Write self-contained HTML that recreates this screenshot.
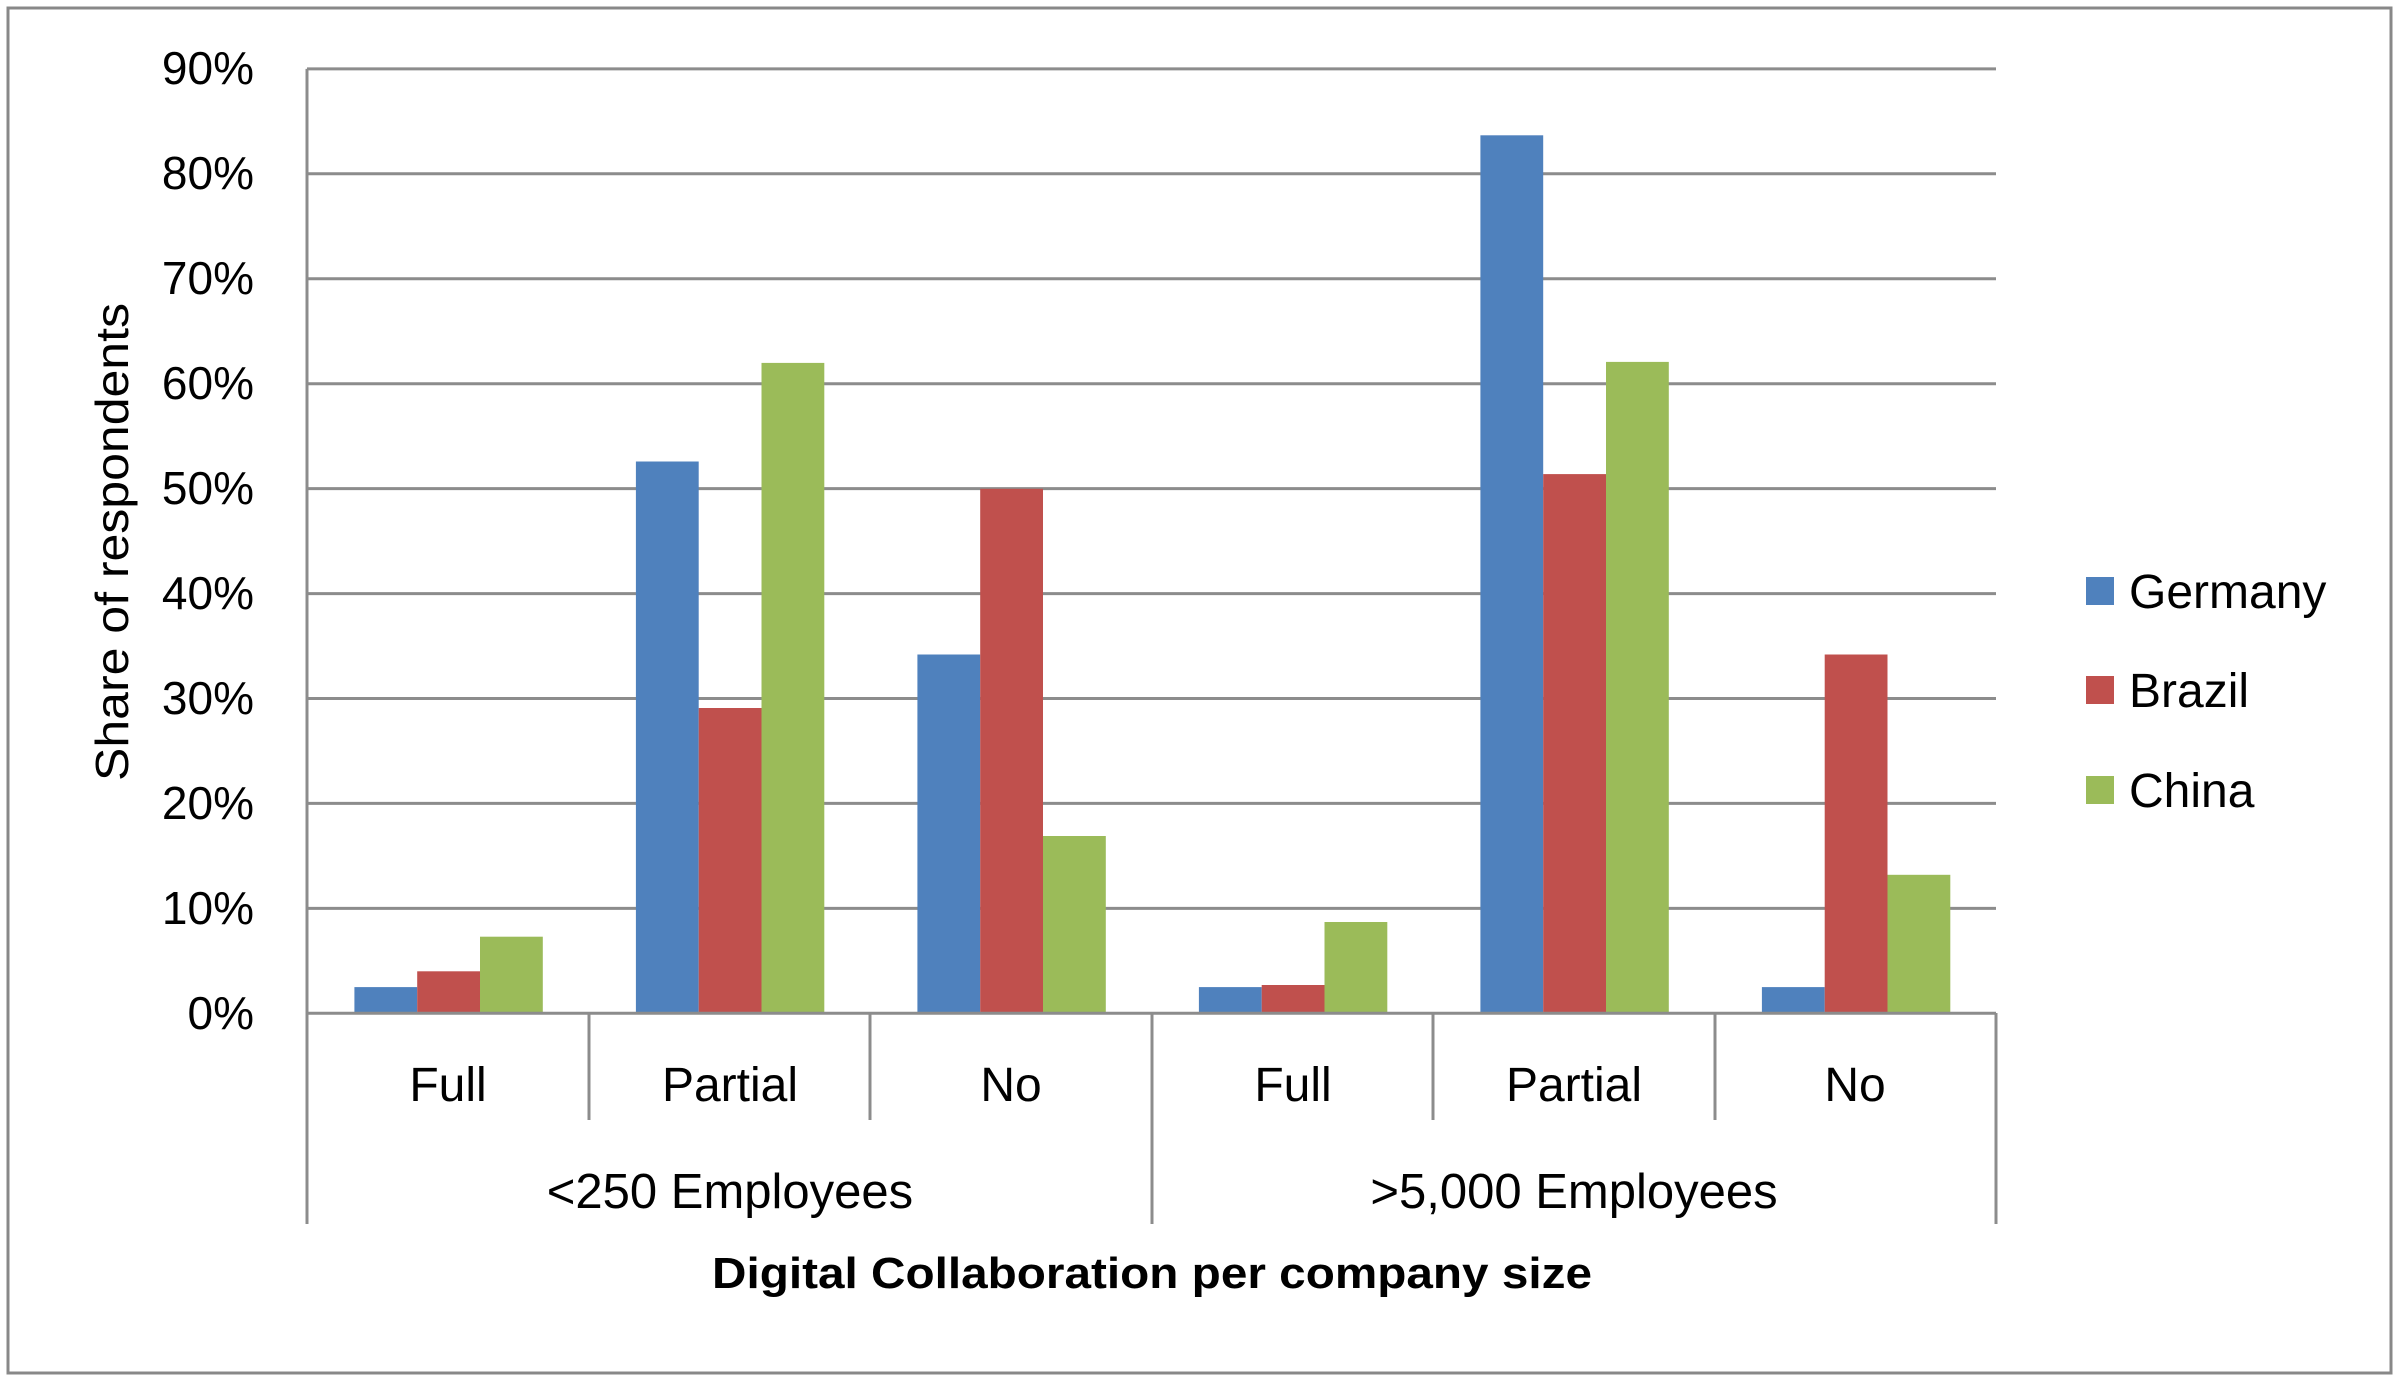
<!DOCTYPE html>
<html><head><meta charset="utf-8"><style>html,body{margin:0;padding:0;background:#fff}svg{display:block}</style></head>
<body>
<svg width="2400" height="1381" viewBox="0 0 2400 1381" xmlns="http://www.w3.org/2000/svg" font-family="Liberation Sans, sans-serif">
<rect x="0" y="0" width="2400" height="1381" fill="#fff"/>
<rect x="8" y="8" width="2383" height="1365" fill="none" stroke="#888" stroke-width="3"/>
<g stroke="#8c8c8c" stroke-width="3">
<line x1="307" y1="68.9" x2="1996" y2="68.9"/>
<line x1="307" y1="173.8" x2="1996" y2="173.8"/>
<line x1="307" y1="278.8" x2="1996" y2="278.8"/>
<line x1="307" y1="383.7" x2="1996" y2="383.7"/>
<line x1="307" y1="488.6" x2="1996" y2="488.6"/>
<line x1="307" y1="593.6" x2="1996" y2="593.6"/>
<line x1="307" y1="698.5" x2="1996" y2="698.5"/>
<line x1="307" y1="803.4" x2="1996" y2="803.4"/>
<line x1="307" y1="908.4" x2="1996" y2="908.4"/>
<line x1="307" y1="68.9" x2="307" y2="1224"/>
<line x1="1996" y1="1013" x2="1996" y2="1224"/>
<line x1="1152" y1="1013" x2="1152" y2="1224"/>
<line x1="589" y1="1013" x2="589" y2="1120"/>
<line x1="870" y1="1013" x2="870" y2="1120"/>
<line x1="1433" y1="1013" x2="1433" y2="1120"/>
<line x1="1715" y1="1013" x2="1715" y2="1120"/>
</g>
<g fill="#4f81bd">
<rect x="354.4" y="987.1" width="62.8" height="26.2"/>
<rect x="635.9" y="461.5" width="62.8" height="551.8"/>
<rect x="917.4" y="654.5" width="62.8" height="358.8"/>
<rect x="1198.9" y="987.1" width="62.8" height="26.2"/>
<rect x="1480.4" y="135.3" width="62.8" height="878.0"/>
<rect x="1761.9" y="987.1" width="62.8" height="26.2"/>
</g>
<g fill="#c0504d">
<rect x="417.2" y="971.3" width="62.8" height="42.0"/>
<rect x="698.7" y="708.0" width="62.8" height="305.3"/>
<rect x="980.2" y="488.8" width="62.8" height="524.5"/>
<rect x="1261.7" y="985.0" width="62.8" height="28.3"/>
<rect x="1543.2" y="474.1" width="62.8" height="539.2"/>
<rect x="1824.7" y="654.5" width="62.8" height="358.8"/>
</g>
<g fill="#9bbb59">
<rect x="480.0" y="936.7" width="62.8" height="76.6"/>
<rect x="761.5" y="362.9" width="62.8" height="650.4"/>
<rect x="1043.0" y="836.0" width="62.8" height="177.3"/>
<rect x="1324.5" y="922.0" width="62.8" height="91.3"/>
<rect x="1606.0" y="361.9" width="62.8" height="651.4"/>
<rect x="1887.5" y="874.8" width="62.8" height="138.5"/>
</g>
<line x1="307" y1="1013.3" x2="1996" y2="1013.3" stroke="#8c8c8c" stroke-width="3"/>
<g font-size="46" fill="#000" text-anchor="end">
<text x="254" y="84">90%</text><text x="254" y="189">80%</text><text x="254" y="294">70%</text>
<text x="254" y="399">60%</text><text x="254" y="504">50%</text><text x="254" y="609">40%</text>
<text x="254" y="714">30%</text><text x="254" y="819">20%</text><text x="254" y="924">10%</text>
<text x="254" y="1029">0%</text>
</g>
<g font-size="48" fill="#000" text-anchor="middle">
<text x="448" y="1101">Full</text><text x="730" y="1101">Partial</text><text x="1011" y="1101">No</text>
<text x="1293" y="1101">Full</text><text x="1574" y="1101">Partial</text><text x="1855" y="1101">No</text>
<text x="730" y="1208" font-size="49">&lt;250 Employees</text><text x="1574" y="1208" font-size="49">&gt;5,000 Employees</text>
<text x="1152" y="1288" font-weight="bold" font-size="44" textLength="880" lengthAdjust="spacingAndGlyphs">Digital Collaboration per company size</text>
<text transform="translate(128,542) rotate(-90)" font-size="46" textLength="478" lengthAdjust="spacingAndGlyphs">Share of respondents</text>
</g>
<rect x="2086" y="577" width="28" height="28" fill="#4f81bd"/>
<rect x="2086" y="676" width="28" height="28" fill="#c0504d"/>
<rect x="2086" y="776" width="28" height="28" fill="#9bbb59"/>
<g font-size="48" fill="#000">
<text x="2129" y="608">Germany</text><text x="2129" y="707">Brazil</text><text x="2129" y="807">China</text>
</g>
</svg>
</body></html>
